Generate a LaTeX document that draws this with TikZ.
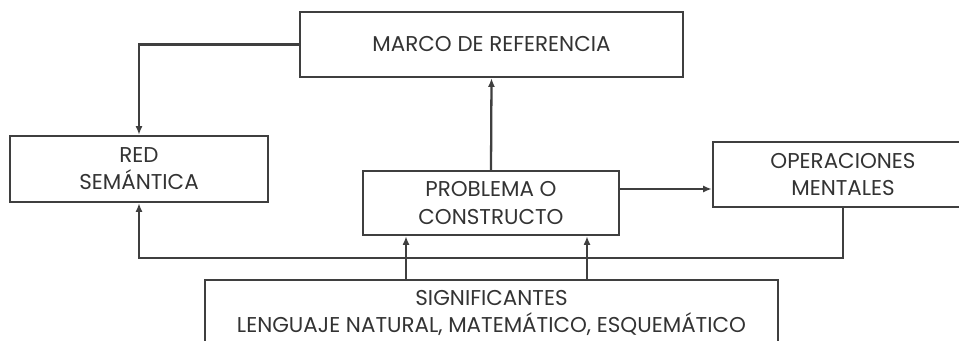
\documentclass[tikz,border=0pt]{standalone}
\usepackage{fontspec}
\setmainfont{Poppins}
\usetikzlibrary{arrows.meta}
\usetikzlibrary{calc}
\definecolor{ink}{HTML}{3F3F3F}
\definecolor{inktext}{HTML}{333333}

\tikzset{
  box/.style={draw=ink, line width=1.3pt, rectangle, inner sep=0pt, align=center,
    text=inktext, font=\fontsize{12.2}{15.4}\selectfont},
  arr/.style={draw=ink, line width=1.3pt, -{Latex[length=5pt, width=4pt]}}
}

\begin{document}
\begin{tikzpicture}[x=0.02cm, y=-0.02cm]
      \useasboundingbox (0,0) rectangle (959,341);
      \node[box, minimum width=383*0.02cm, minimum height=65*0.02cm] (marco) at (491.5,44.5) {MARCO DE REFERENCIA};
      \node[box, minimum width=258*0.02cm, minimum height=66*0.02cm] (red) at (139,169) {RED\\SEMÁNTICA};
      \node[box, minimum width=256*0.02cm, minimum height=64*0.02cm] (prob) at (491,203) {PROBLEMA O\\CONSTRUCTO};
      \node[box, minimum width=260*0.02cm, minimum height=65*0.02cm] (oper) at (843,174.5) {OPERACIONES\\MENTALES};
      \node[box, minimum width=573*0.02cm, minimum height=66*0.02cm] (sig) at (491.5,313) {SIGNIFICANTES\\LENGUAJE NATURAL, MATEMÁTICO, ESQUEMÁTICO};

      \coordinate (mid) at (600,189);
      \coordinate (loop) at (0,258);
      \coordinate (s1) at (406,0);
      \coordinate (s2) at (587,0);

      \draw[arr] (marco.west) -| (red.north);
      \draw[arr] (prob.north) -- (marco.south);
      \draw[arr] (prob.east |- mid) -- (oper.west |- mid);
      \draw[arr] (oper.south) |- (red.south |- loop) -- (red.south);
      \draw[arr] (sig.north -| s1) -- (prob.south -| s1);
      \draw[arr] (sig.north -| s2) -- (prob.south -| s2);
    \end{tikzpicture}
\end{document}
